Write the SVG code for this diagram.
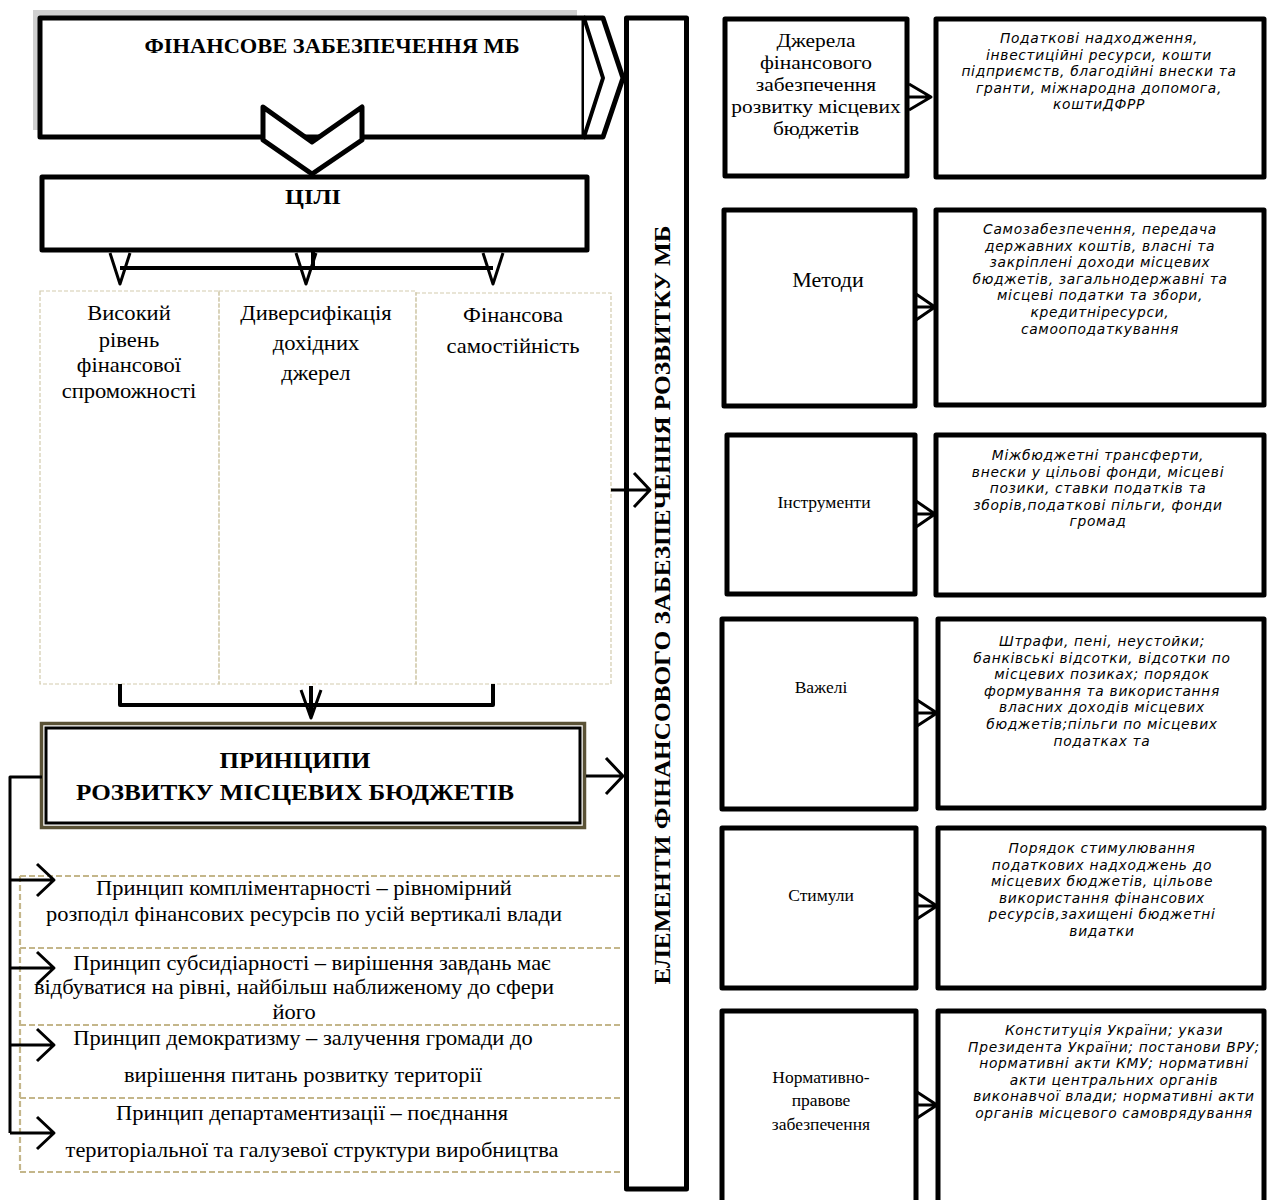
<svg xmlns="http://www.w3.org/2000/svg" width="1267" height="1200" viewBox="0 0 1267 1200">
  <defs>
    <style>
      .box { fill:#fff; stroke:#000; stroke-width:5; stroke-linejoin:round; }
      .ln { fill:none; stroke:#000; stroke-width:4; stroke-linejoin:round; }
      .ln3 { fill:none; stroke:#000; stroke-width:3; stroke-linejoin:round; }
      .col { fill:none; stroke:#d3cbad; stroke-width:1.2; stroke-dasharray:4 2; }
      .prin { fill:none; stroke:#c4b68a; stroke-width:2.2; stroke-dasharray:6 3; }
      .serif { font-family:"Liberation Serif","Times New Roman",serif; fill:#000; }
      .bold { font-weight:bold; }
      .it { font-family:"DejaVu Sans",sans-serif; font-style:italic; font-size:13.8px; letter-spacing:0.7px; fill:#000; }
      .mid { text-anchor:middle; }
    </style>
  </defs>

  <!-- top block: financial provision -->
  <g id="node-finance">
    <rect x="33" y="10" width="544" height="120" fill="#cfcfcf"/>
    <rect class="box" x="40" y="18" width="544" height="119"/>
    <path class="box" d="M584,18 L603,18 L623,78 L603,137 L584,137"/>
    <path class="ln" d="M584,18 L603,78 L584,137" stroke-width="5"/>
    <text class="serif bold mid" x="332" y="53" font-size="21" textLength="375" lengthAdjust="spacingAndGlyphs">ФІНАНСОВЕ ЗАБЕЗПЕЧЕННЯ МБ</text>
  </g>

  <!-- goals -->
  <g id="node-goals">
    <rect class="box" x="42" y="177" width="545" height="73"/>
    <text class="serif bold mid" x="313" y="204" font-size="22" textLength="56" lengthAdjust="spacingAndGlyphs">ЦІЛІ</text>
  </g>

  <!-- goal columns (text widened slightly around each column centre) -->
  <g id="node-goal-columns">
    <rect class="col" x="40" y="291" width="179" height="393"/>
    <rect class="col" x="219" y="291" width="197" height="393"/>
    <rect class="col" x="416" y="293" width="195" height="391"/>
    <g class="serif mid" font-size="20.5" transform="matrix(1.1,0,0,1,-12.9,0)">
      <text x="129" y="320">Високий</text>
      <text x="129" y="347">рівень</text>
      <text x="129" y="372">фінансової</text>
      <text x="129" y="398">спроможності</text>
    </g>
    <g class="serif mid" font-size="20.5" transform="matrix(1.1,0,0,1,-31.6,0)">
      <text x="316" y="320">Диверсифікація</text>
      <text x="316" y="350">дохідних</text>
      <text x="316" y="380">джерел</text>
    </g>
    <g class="serif mid" font-size="20.5" transform="matrix(1.1,0,0,1,-51.3,0)">
      <text x="513" y="322">Фінансова</text>
      <text x="513" y="353">самостійність</text>
    </g>
  </g>

  <!-- principles header -->
  <g id="node-principles">
    <rect x="41.5" y="723.5" width="543" height="104" fill="#fff" stroke="#5a5236" stroke-width="3.5"/>
    <rect x="46" y="728" width="534" height="95" fill="none" stroke="#000" stroke-width="3"/>
    <text class="serif bold mid" x="295" y="768" font-size="23" textLength="151" lengthAdjust="spacingAndGlyphs">ПРИНЦИПИ</text>
    <text class="serif bold mid" x="295" y="800" font-size="23" textLength="438" lengthAdjust="spacingAndGlyphs">РОЗВИТКУ МІСЦЕВИХ БЮДЖЕТІВ</text>
  </g>

  <!-- principle list -->
  <g id="node-principle-list">
    <path class="prin" d="M20,876 H622 M20,948 H622 M20,1025 H622 M20,1098 H622 M20,1172 H622 M20,876 V1172"/>
    <g class="serif mid" font-size="21" transform="matrix(1.07,0,0,1,-21.28,0)">
      <text x="304" y="895">Принцип компліментарності – рівномірний</text>
      <text x="304" y="921">розподіл фінансових ресурсів по усій вертикалі влади</text>
      <text x="311.5" y="970">Принцип субсидіарності – вирішення завдань має</text>
      <text x="294.7" y="994">відбуватися на рівні, найбільш наближеному до сфери</text>
      <text x="294.7" y="1019">його</text>
      <text x="303" y="1045">Принцип демократизму – залучення громади до</text>
      <text x="303" y="1082">вирішення питань розвитку території</text>
      <text x="311.5" y="1120">Принцип департаментизації – поєднання</text>
      <text x="311.5" y="1157">територіальної та галузевої структури виробництва</text>
    </g>
  </g>

  <!-- vertical elements bar -->
  <g id="node-elements">
    <rect class="box" x="626.5" y="18" width="60" height="1171"/>
    <text class="serif bold mid" transform="translate(660,605) rotate(-90)" x="0" y="10" font-size="23" textLength="759" lengthAdjust="spacingAndGlyphs">ЕЛЕМЕНТИ ФІНАНСОВОГО ЗАБЕЗПЕЧЕННЯ РОЗВИТКУ МБ</text>
  </g>

  <!-- element rows: category box and description box -->
  <g id="node-sources">
    <rect class="box" x="725" y="19" width="182" height="157"/>
    <g class="serif mid" font-size="19.5" transform="matrix(1.1,0,0,1,-81.6,0)">
      <text x="816" y="47">Джерела</text>
      <text x="816" y="69">фінансового</text>
      <text x="816" y="91">забезпечення</text>
      <text x="816" y="113">розвитку місцевих</text>
      <text x="816" y="135">бюджетів</text>
    </g>
  </g>
  <g id="node-sources-desc">
    <rect class="box" x="936" y="19" width="328" height="158"/>
    <g class="it mid">
      <text x="1099" y="43">Податкові надходження,</text>
      <text x="1099" y="59.6">інвестиційні ресурси, кошти</text>
      <text x="1099" y="76.2">підприємств, благодійні внески та</text>
      <text x="1099" y="92.8">гранти, міжнародна допомога,</text>
      <text x="1099" y="109.4">коштиДФРР</text>
    </g>
  </g>

  <g id="node-methods">
    <rect class="box" x="724" y="210" width="191" height="196"/>
    <text class="serif mid" x="828" y="287" font-size="22">Методи</text>
  </g>
  <g id="node-methods-desc">
    <rect class="box" x="936" y="210" width="328" height="195"/>
    <g class="it mid">
      <text x="1100" y="234">Самозабезпечення, передача</text>
      <text x="1100" y="250.6">державних коштів, власні та</text>
      <text x="1100" y="267.2">закріплені доходи місцевих</text>
      <text x="1100" y="283.8">бюджетів, загальнодержавні та</text>
      <text x="1100" y="300.4">місцеві податки та збори,</text>
      <text x="1100" y="317">кредитніресурси,</text>
      <text x="1100" y="333.6">самооподаткування</text>
    </g>
  </g>

  <g id="node-instruments">
    <rect class="box" x="727" y="435" width="188" height="159"/>
    <text class="serif mid" x="824" y="508" font-size="17.5">Інструменти</text>
  </g>
  <g id="node-instruments-desc">
    <rect class="box" x="936" y="435" width="328" height="160"/>
    <g class="it mid">
      <text x="1098" y="460">Міжбюджетні трансферти,</text>
      <text x="1098" y="476.6">внески у цільові фонди, місцеві</text>
      <text x="1098" y="493.2">позики, ставки податків та</text>
      <text x="1098" y="509.8">зборів,податкові пільги, фонди</text>
      <text x="1098" y="526.4">громад</text>
    </g>
  </g>

  <g id="node-levers">
    <rect class="box" x="722" y="619" width="194" height="190"/>
    <text class="serif mid" x="821" y="693" font-size="17.5">Важелі</text>
  </g>
  <g id="node-levers-desc">
    <rect class="box" x="938" y="619" width="326" height="189"/>
    <g class="it mid">
      <text x="1102" y="646">Штрафи, пені, неустойки;</text>
      <text x="1102" y="662.6">банківські відсотки, відсотки по</text>
      <text x="1102" y="679.2">місцевих позиках; порядок</text>
      <text x="1102" y="695.8">формування та використання</text>
      <text x="1102" y="712.4">власних доходів місцевих</text>
      <text x="1102" y="729">бюджетів;пільги по місцевих</text>
      <text x="1102" y="745.6">податках та</text>
    </g>
  </g>

  <g id="node-incentives">
    <rect class="box" x="722" y="828" width="194" height="160"/>
    <text class="serif mid" x="821" y="901" font-size="17.5">Стимули</text>
  </g>
  <g id="node-incentives-desc">
    <rect class="box" x="938" y="828" width="326" height="160"/>
    <g class="it mid">
      <text x="1102" y="853">Порядок стимулювання</text>
      <text x="1102" y="869.6">податкових надходжень до</text>
      <text x="1102" y="886.2">місцевих бюджетів, цільове</text>
      <text x="1102" y="902.8">використання фінансових</text>
      <text x="1102" y="919.4">ресурсів,захищені бюджетні</text>
      <text x="1102" y="936">видатки</text>
    </g>
  </g>

  <g id="node-legal">
    <rect class="box" x="722" y="1011" width="194" height="200"/>
    <g class="serif mid" font-size="17.5">
      <text x="821" y="1083">Нормативно-</text>
      <text x="821" y="1106">правове</text>
      <text x="821" y="1130">забезпечення</text>
    </g>
  </g>
  <g id="node-legal-desc">
    <rect class="box" x="938" y="1011" width="326" height="200"/>
    <g class="it mid">
      <text x="1114" y="1035">Конституція України; укази</text>
      <text x="1114" y="1051.6">Президента України; постанови ВРУ;</text>
      <text x="1114" y="1068.2">нормативні акти КМУ; нормативні</text>
      <text x="1114" y="1084.8">акти центральних органів</text>
      <text x="1114" y="1101.4">виконавчої влади; нормативні акти</text>
      <text x="1114" y="1118">органів місцевого самоврядування</text>
    </g>
  </g>

  <!-- connectors -->
  <g id="connectors">
    <!-- chevron from top block down to goals -->
    <polygon points="263,107 312,142 362,107 362,140 312,174 263,140" fill="#fff" stroke="#000" stroke-width="5" stroke-linejoin="round"/>

    <!-- goals fan-out to columns -->
    <path class="ln" d="M313,250 V268 M120,268 H493"/>
    <path class="ln3" d="M110,253 L120,284 L130,253"/>
    <path class="ln3" d="M296,253 L306,284 L316,253"/>
    <path class="ln3" d="M483,253 L493,284 L503,253"/>

    <!-- columns to principles -->
    <path class="ln" d="M120,684 V705 H493 V684"/>
    <path class="ln" d="M311,686 V716"/>
    <path class="ln3" d="M301,690 L311,718 L321,690"/>

    <!-- columns to elements bar -->
    <path class="ln3" d="M611,490 H650 M634,473 L650,490 L634,507"/>

    <!-- principles to elements bar -->
    <path class="ln3" d="M586,776 H623 M606,758 L623,776 L606,794"/>

    <!-- principles header to list items -->
    <path class="ln3" d="M42,777 H10 V1133"/>
    <path class="ln3" d="M10,880 H54 M37,864 L54,880 L37,896"/>
    <path class="ln3" d="M10,968 H54 M37,952 L54,968 L37,984"/>
    <path class="ln3" d="M10,1045 H54 M37,1029 L54,1045 L37,1061"/>
    <path class="ln3" d="M10,1133 H54 M37,1117 L54,1133 L37,1149"/>

    <!-- category to description -->
    <path class="ln3" d="M909,84 L931,97 L909,110 M909,97 H931"/>
    <path class="ln3" d="M916,294 L935,307 L916,320 M916,307 H935"/>
    <path class="ln3" d="M916,501 L935,514 L916,527 M916,514 H935"/>
    <path class="ln3" d="M917,700 L937,713 L917,726 M917,713 H937"/>
    <path class="ln3" d="M917,893 L937,906 L917,919 M917,906 H937"/>
    <path class="ln3" d="M917,1092 L937,1105 L917,1118 M917,1105 H937"/>
  </g>
</svg>
